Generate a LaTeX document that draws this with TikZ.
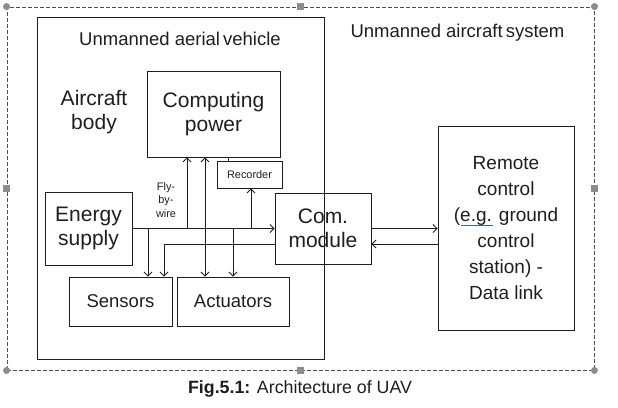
\documentclass[tikz,border=0pt]{standalone}
\usepackage{fontspec}
\setmainfont{Liberation Sans}
\usetikzlibrary{arrows.meta,calc}
\definecolor{ink}{HTML}{1E1E1E}
\definecolor{framecol}{HTML}{505050}
\definecolor{handlecol}{HTML}{8C8C8C}
\definecolor{spellcol}{HTML}{4060B0}
\begin{document}
\begin{tikzpicture}[x=1pt,y=-1pt,
  box/.style={draw=ink, line width=0.9pt, inner sep=0pt, align=center, text=ink},
  lbl/.style={inner sep=0pt, align=center, text=ink},
  conn/.style={draw=ink, line width=0.8pt},
  hcirc/.style={circle, fill=handlecol, minimum size=7pt, inner sep=0pt},
  hsq/.style={rectangle, fill=handlecol, minimum size=6.5pt, inner sep=0pt},
  big/.style={font=\fontsize{21}{24}\selectfont},
  mid/.style={font=\fontsize{18.5}{22}\selectfont},
  small/.style={font=\fontsize{10.9}{13.5}\selectfont},
  >={Straight Barb[length=4pt,width=8pt]}]
\useasboundingbox (0,0) rectangle (618,407);

% outer dashed frame (Unmanned aircraft system)
\node[draw=framecol, dash pattern=on 4pt off 2pt, line width=0.9pt,
      minimum width=587pt, minimum height=363pt, inner sep=0pt] (uas) at (300.5,188.5) {};
\foreach \a in {north west, north east, south west, south east}
  \node[hcirc] at (uas.\a) {};
\foreach \a in {north, south, east, west}
  \node[hsq] at (uas.\a) {};
\node[lbl, mid] (uastitle) at (457.5,33) {Unmanned aircraft\,system};

% UAV frame
\node[box, minimum width=287pt, minimum height=342pt] (uav) at (180.5,188) {};
\node[lbl, mid] (uavtitle) at (180,39) {Unmanned aerial\,vehicle};

\node[lbl, big] (body) at (94,112) {Aircraft\\body};
\node[box, big, minimum width=133pt, minimum height=86pt] (comp) at (213.5,114) {Computing\\power};
\node[box, small, minimum width=65pt, minimum height=27pt] (rec) at (249.5,174.5) {Recorder};
\node[box, big, minimum width=87pt, minimum height=73pt] (energy) at (88.5,228.5) {Energy\\supply};
\node[box, big, minimum width=96pt, minimum height=71pt] (com) at (323,228.5) {Com.\\module};
\node[box, mid, minimum width=103pt, minimum height=49pt] (sens) at (120.5,301.5) {Sensors};
\node[box, mid, minimum width=112pt, minimum height=49pt] (act) at (233,301.5) {Actuators};
\node[box, font=\fontsize{19}{26}\selectfont, minimum width=136pt, minimum height=204pt] (remote) at (506,228)
  {Remote\\control\\(e.g. ground\\control\\station) -\\Data link};
\draw[spellcol, line width=0.6pt] (461,225) -- (493,225);
\node[lbl, small] (fbw) at (166,200) {Fly-\\by-\\wire};

% junction coordinates on the main bus
\coordinate (jsens) at (148,228.5);
\coordinate (jcomp) at (187,228.5);
\coordinate (jact)  at (233,228.5);
\coordinate (jrec)  at (251,228.5);
\coordinate (xdbl)  at (205,0);
\coordinate (xrc)   at (228,0);
\coordinate (xret)  at (164,0);

% connectors
\draw[conn, ->] (energy.east) -- (com.west);
\draw[conn, ->] (jcomp) -- (jcomp |- comp.south);
\draw[conn, ->] (jrec) -- (jrec |- rec.south);
\draw[conn, ->] (jsens) -- (jsens |- sens.north);
\draw[conn, ->] (jact) -- (jact |- act.north);
\draw[conn, <->] (act.north -| xdbl) -- (comp.south -| xdbl);
\draw[conn] (comp.south -| xrc) -- (rec.north -| xrc);
\draw[conn, ->] ($(com.west)+(0,15.5)$) -| (sens.north -| xret);
\draw[conn, ->] (com.east) -- (remote.west |- com.east);
\draw[conn, ->] ($(remote.west |- com.east)+(0,15.5)$) -- ($(com.east)+(0,15.5)$);

% caption
\node[lbl, font=\fontsize{17.8}{20}\selectfont] (cap) at (300,389) {\textbf{Fig.5.1:} Architecture of UAV};
\end{tikzpicture}
\end{document}
